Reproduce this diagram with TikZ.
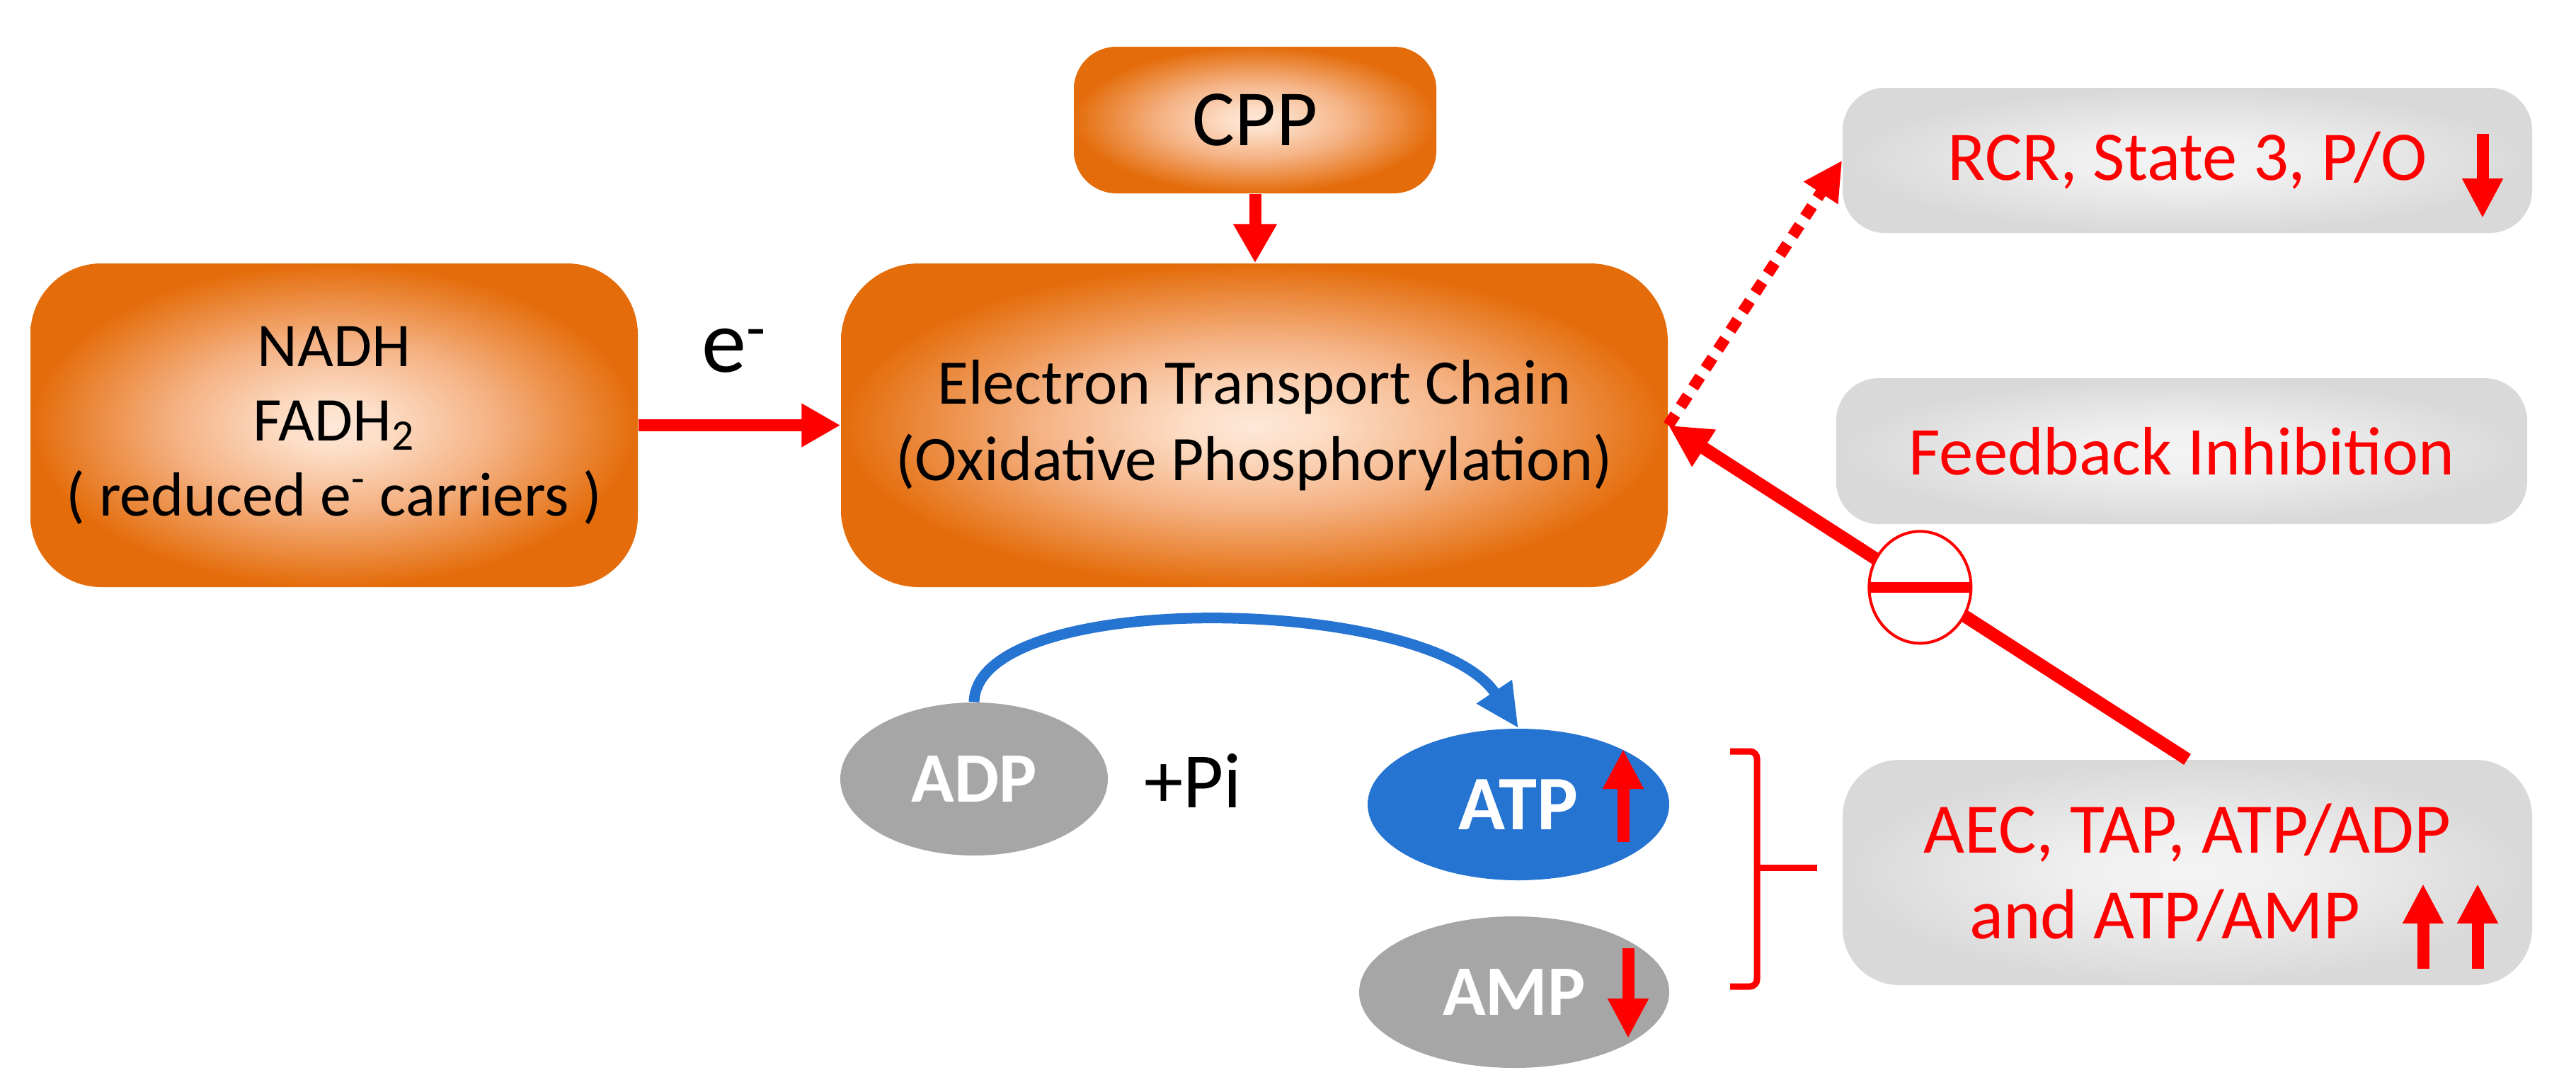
\documentclass[tikz,border=0pt]{standalone}
\usepackage{fontspec}
\setmainfont{Carlito}
\usetikzlibrary{arrows.meta,calc,shapes.geometric}

\definecolor{pured}{RGB}{255,0,0}
\definecolor{ellgray}{RGB}{166,166,166}
\definecolor{atpblue}{RGB}{38,116,210}

\pgfdeclareradialshading{orangeglow}{\pgfpoint{0bp}{0bp}}{rgb(0bp)=(0.996,0.91,0.85); rgb(4bp)=(0.99,0.87,0.78); rgb(13bp)=(0.96,0.70,0.52); rgb(25bp)=(0.894,0.424,0.039); rgb(50bp)=(0.894,0.424,0.039)}
\pgfdeclareradialshading{grayglow}{\pgfpoint{0bp}{0bp}}{rgb(0bp)=(0.955,0.955,0.955); rgb(8bp)=(0.94,0.94,0.94); rgb(25bp)=(0.85,0.85,0.85); rgb(50bp)=(0.85,0.85,0.85)}

\tikzset{
  obox/.style={rectangle, shade, shading=orangeglow, align=center, inner sep=0pt, text=black},
  gbox/.style={rectangle, shade, shading=grayglow, align=center, inner sep=0pt, text=pured},
  molec/.style={ellipse, inner sep=0pt, text=white, font=\fontsize{28.5}{30}\selectfont\bfseries},
  redarrow/.style={draw=pured, line width=0.17cm, -{Triangle[length=0.55cm,width=0.58cm]}},
  dotarrow/.style={draw=pured, line width=0.16cm, dash pattern=on 0.18cm off 0.14cm, -{Triangle[length=0.55cm,width=0.54cm]}},
  inhline/.style={draw=pured, line width=0.18cm, -{Triangle[length=0.6cm,width=0.58cm]}},
  smallarrow/.style={draw=pured, line width=0.17cm, -{Triangle[length=0.56cm,width=0.54cm]}},
  bluearrow/.style={draw=atpblue, line width=0.15cm, -{Triangle[length=0.62cm,width=0.56cm]}},
  bracketline/.style={draw=pured, line width=0.09cm},
  inhib/.style={ellipse, draw=pured, line width=0.04cm, fill=white, minimum width=1.44cm, minimum height=1.58cm, inner sep=0pt,
    path picture={\draw[pured, line width=0.15cm, -] (path picture bounding box.west) -- (path picture bounding box.east);}}
}

\begin{document}
\begin{tikzpicture}
\useasboundingbox (0,0) rectangle (36.39,-15.17);
\fill[white] (0,0) rectangle (36.39,-15.17);

% orange boxes
\node[obox, minimum width=8.58cm, minimum height=4.57cm, rounded corners=1cm,
      font=\fontsize{25}{30}\selectfont] (nadh) at (4.72,-6.005)
      {NADH\\FADH\textsubscript{2}\\( reduced e\textsuperscript{-} carriers )};
\node[obox, minimum width=11.68cm, minimum height=4.57cm, rounded corners=1.1cm,
      font=\fontsize{25.5}{30.5}\selectfont] (etc) at (17.72,-6.005)
      {Electron Transport Chain\\(Oxidative Phosphorylation)};
\node[obox, minimum width=5.12cm, minimum height=2.07cm, rounded corners=0.6cm,
      font=\fontsize{32}{34}\selectfont] (cpp) at (17.73,-1.695) {CPP};

% grey boxes
\node[gbox, minimum width=9.74cm, minimum height=2.05cm, rounded corners=0.6cm,
      font=\fontsize{28}{30}\selectfont] (rcr) at (30.90,-2.265) {RCR, State 3, P/O};
\node[gbox, minimum width=9.76cm, minimum height=2.06cm, rounded corners=0.6cm,
      font=\fontsize{27.5}{29}\selectfont] (fb) at (30.82,-6.37) {Feedback Inhibition};
\node[gbox, minimum width=9.74cm, minimum height=3.18cm, rounded corners=0.8cm,
      font=\fontsize{28.5}{34.4}\selectfont] (aec) at (30.90,-12.32)
      {AEC, TAP, ATP/ADP\\and ATP/AMP\hspace*{0.64cm}};

% molecules
\node[molec, fill=ellgray, minimum width=3.78cm, minimum height=2.16cm] (adp) at (13.76,-11.0) {ADP};
\node[molec, fill=atpblue, minimum width=4.26cm, minimum height=2.14cm, font=\fontsize{31}{33}\selectfont\bfseries] (atp) at (21.45,-11.36) {ATP};
\node[molec, fill=ellgray, minimum width=4.38cm, minimum height=2.14cm] (amp) at (21.39,-14.01) {AMP};

% labels
\node[font=\fontsize{36}{38}\selectfont] (eminus) at (10.37,-4.95) {e\textsuperscript{-}};
\node[font=\fontsize{31.5}{33}\selectfont] (pi) at (16.85,-11.02) {+Pi};

% connectors
\draw[redarrow] (nadh.east) -- (etc.west);
\draw[redarrow] (cpp.south) -- (cpp.south |- etc.north);
\draw[dotarrow] (etc.east) -- (rcr.west);
\draw[inhline] (aec.north) -- node[pos=0.515, inhib] (inh) {} (etc.east);
\draw[bluearrow] (adp.north) .. controls (13.8,-8.3) and (20.2,-8.4) .. (atp.north);

% bracket
\coordinate (bt) at (24.44,-10.61);
\coordinate (bb) at (24.44,-13.93);
\coordinate (bmid) at (24.82,-12.25);
\coordinate (bstub) at (25.67,-12.25);
\draw[bracketline, rounded corners=0.1cm] (bt) -- (24.82,-10.61) -- (24.82,-13.93) -- (bb);
\draw[bracketline] (bmid) -- (bstub);

% indicator arrows
\draw[smallarrow] ($(atp.center)+(1.48,-0.53)$) -- ($(atp.center)+(1.48,0.78)$);
\draw[smallarrow] ($(amp.center)+(1.61,0.62)$) -- ($(amp.center)+(1.61,-0.65)$);
\draw[smallarrow] ($(rcr.center)+(4.17,0.375)$) -- ($(rcr.center)+(4.17,-0.815)$);
\draw[smallarrow] ($(aec.center)+(3.33,-1.36)$) -- ($(aec.center)+(3.33,-0.16)$);
\draw[smallarrow] ($(aec.center)+(4.10,-1.36)$) -- ($(aec.center)+(4.10,-0.16)$);
\end{tikzpicture}
\end{document}
